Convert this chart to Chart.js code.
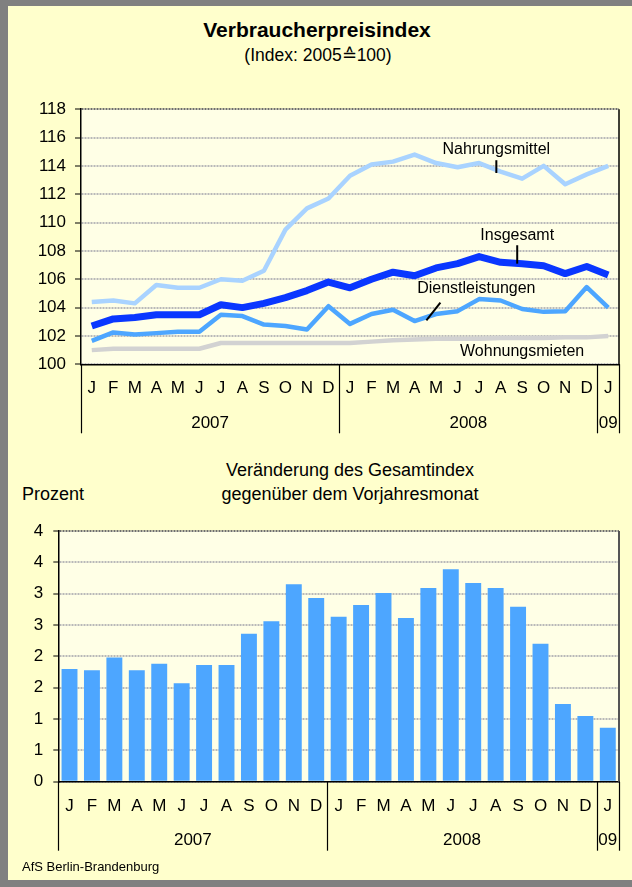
<!DOCTYPE html>
<html>
<head>
<meta charset="utf-8">
<title>Verbraucherpreisindex</title>
<script src="https://cdn.jsdelivr.net/npm/chart.js@4.4.1/dist/chart.umd.min.js"></script>
<style>
    body { margin: 0; width: 632px; height: 887px; background: #808080; position: relative; overflow: hidden;
           font-family: "Liberation Sans", Arial, sans-serif; color: #000; }
    #panel { position: absolute; left: 8px; top: 6px; width: 624px; height: 874px; background: #FFFFCC; }
    .txt { position: absolute; white-space: nowrap; line-height: normal; }
    .center { transform: translateX(-50%); }
    canvas { position: absolute; left: 0; }
</style>
</head>
<body>
<div id="panel"></div>
<div class="txt center" style="left:317px; top:18px; font-size:21px; font-weight:bold;">Verbraucherpreisindex</div>
<div class="txt center" style="left:318px; top:45px; font-size:17.5px;">(Index: 2005≙100)</div>
<canvas id="indexChart" width="632" height="360" style="top:90px;"></canvas>
<div class="txt center" style="left:350px; top:460px; font-size:18px;">Veränderung des Gesamtindex</div>
<div class="txt center" style="left:350px; top:484px; font-size:18px;">gegenüber dem Vorjahresmonat</div>
<div class="txt" style="left:22px; top:484px; font-size:18px;">Prozent</div>
<canvas id="changeChart" width="632" height="365" style="top:505px;"></canvas>
<div class="txt" style="left:22px; top:859px; font-size:13px; z-index:2;">AfS Berlin-Brandenburg</div>

<script>
// months Jan 2007 .. Jan 2009
const months = ['J', 'F', 'M', 'A', 'M', 'J', 'J', 'A', 'S', 'O', 'N', 'D',
                'J', 'F', 'M', 'A', 'M', 'J', 'J', 'A', 'S', 'O', 'N', 'D', 'J'];
const yearLabels = ['2007', '2008', '09'];
const monthsPerYear = [12, 12, 1];

// index 2005 = 100
const nahrungsmittel = [104.4, 104.5, 104.3, 105.6, 105.4, 105.4, 106.0, 105.9, 106.6, 109.5, 111.0, 111.7,
                        113.3, 114.1, 114.3, 114.8, 114.2, 113.9, 114.2, 113.6, 113.1, 114.0, 112.7, 113.4, 114.0];
const insgesamt = [102.7, 103.2, 103.3, 103.5, 103.5, 103.5, 104.2, 104.0, 104.3, 104.7, 105.2, 105.8,
                   105.4, 106.0, 106.5, 106.25, 106.8, 107.1, 107.6, 107.2, 107.1, 106.95, 106.4, 106.9, 106.3];
const dienstleistungen = [101.65, 102.25, 102.1, 102.2, 102.3, 102.3, 103.5, 103.4, 102.8, 102.7, 102.45, 104.1,
                          102.85, 103.55, 103.85, 103.05, 103.55, 103.75, 104.6, 104.5, 103.9, 103.7, 103.75, 105.45, 104.0];
const wohnungsmieten = [101.0, 101.1, 101.1, 101.1, 101.1, 101.1, 101.5, 101.5, 101.5, 101.5, 101.5, 101.5,
                        101.5, 101.6, 101.7, 101.75, 101.8, 101.8, 101.8, 101.85, 101.85, 101.85, 101.9, 101.9, 102.0];

// change against same month of previous year, percent
const veraenderung = [1.80, 1.78, 1.98, 1.78, 1.88, 1.57, 1.86, 1.86, 2.36, 2.56, 3.15, 2.93,
                      2.63, 2.82, 3.01, 2.61, 3.09, 3.39, 3.17, 3.09, 2.79, 2.20, 1.24, 1.05, 0.86];
const changeTickLabels = ['0', '1', '1', '2', '2', '3', '3', '4', '4'];

// labels written into the index chart
const seriesNotes = [
    { text: 'Nahrungsmittel', at: [18.8, 115.15], leader: [18.8, 114.4, 18.8, 113.5] },
    { text: 'Insgesamt', at: [19.77, 109.05], leader: [19.77, 108.4, 19.77, 107.1] },
    { text: 'Dienstleistungen', at: [17.87, 105.35], leader: [16.2, 104.35, 15.55, 103.1] },
    { text: 'Wohnungsmieten', at: [20.0, 100.93], leader: null }
];

const FONT = '"Liberation Sans", Arial, sans-serif';
const PLOT_BG = '#FFFFE6';

const plotBackground = {
    id: 'plotBackground',
    beforeDraw(chart) {
        const { ctx, chartArea: a } = chart;
        ctx.save();
        ctx.fillStyle = PLOT_BG;
        ctx.fillRect(a.left, a.top, a.right - a.left, a.bottom - a.top);
        ctx.restore();
    }
};

// year row under the month labels plus the separators
function yearAxis(rightColor, rightWidth) {
    return {
        id: 'yearAxis',
        afterDraw(chart) {
            const { ctx, chartArea: a, scales: { x } } = chart;
            const half = (x.getPixelForValue(1) - x.getPixelForValue(0)) / 2;
            ctx.save();
            ctx.strokeStyle = rightColor;
            ctx.lineWidth = rightWidth;
            ctx.beginPath();
            ctx.moveTo(a.right, a.top);
            ctx.lineTo(a.right, a.bottom);
            ctx.stroke();

            ctx.strokeStyle = '#000';
            ctx.lineWidth = 1.2;
            ctx.font = '17px ' + FONT;
            ctx.fillStyle = '#000';
            ctx.textAlign = 'center';
            ctx.textBaseline = 'middle';
            let start = 0;
            const edges = [x.getPixelForValue(0) - half];
            yearLabels.forEach((label, k) => {
                const end = start + monthsPerYear[k] - 1;
                const left = x.getPixelForValue(start) - half;
                const right = x.getPixelForValue(end) + half;
                edges.push(right);
                ctx.fillText(label, (left + right) / 2, a.bottom + 59);
                start = end + 1;
            });
            edges.forEach(px => {
                const xx = Math.round(px) + 0.5;
                ctx.beginPath();
                ctx.moveTo(xx, a.bottom);
                ctx.lineTo(xx, a.bottom + 69);
                ctx.stroke();
            });
            ctx.restore();
        }
    };
}

const seriesLabels = {
    id: 'seriesLabels',
    afterDatasetsDraw(chart) {
        const { ctx, scales: { x, y } } = chart;
        ctx.save();
        ctx.font = '16px ' + FONT;
        ctx.fillStyle = '#000';
        ctx.strokeStyle = '#000';
        ctx.lineWidth = 2;
        ctx.textAlign = 'center';
        ctx.textBaseline = 'middle';
        seriesNotes.forEach(note => {
            ctx.fillText(note.text, x.getPixelForValue(note.at[0]), y.getPixelForValue(note.at[1]));
            if (note.leader) {
                const l = note.leader;
                ctx.beginPath();
                ctx.moveTo(x.getPixelForValue(l[0]), y.getPixelForValue(l[1]));
                ctx.lineTo(x.getPixelForValue(l[2]), y.getPixelForValue(l[3]));
                ctx.stroke();
            }
        });
        ctx.restore();
    }
};

function gridColor(topValue) {
    return ctx => (ctx.tick && ctx.tick.value === topValue ? '#6e6e6e' : '#b9b9b9');
}

function xAxis(height) {
    return {
        offset: true,
        afterFit: scale => { scale.height = height; },
        grid: { display: false, drawTicks: false },
        border: { display: true, color: '#000', width: 1.5 },
        ticks: { color: '#000', font: { family: FONT, size: 17 }, padding: 14, autoSkip: false, maxRotation: 0 }
    };
}

function yAxis(width, min, max, step, topValue, labelPad, tickLen) {
    return {
        min, max,
        afterFit: scale => { scale.width = width; },
        grid: { color: gridColor(topValue), lineWidth: 2, tickColor: '#000', tickLength: tickLen, tickWidth: 1 },
        border: { display: true, color: '#000', width: 1.5, dash: [2, 1] },
        ticks: { stepSize: step, color: '#000', font: { family: FONT, size: 17 }, padding: labelPad }
    };
}

const lineStyle = (color, width) => ({
    borderColor: color, backgroundColor: color, borderWidth: width,
    pointRadius: 0, tension: 0, borderJoinStyle: 'round', fill: false
});

new Chart(document.getElementById('indexChart'), {
    type: 'line',
    data: {
        labels: months,
        datasets: [
            { label: 'Insgesamt', data: insgesamt, ...lineStyle('#0A37FF', 7) },
            { label: 'Dienstleistungen', data: dienstleistungen, ...lineStyle('#4DA6FF', 4.5) },
            { label: 'Nahrungsmittel', data: nahrungsmittel, ...lineStyle('#A9D3FF', 4.5) },
            { label: 'Wohnungsmieten', data: wohnungsmieten, ...lineStyle('#D2D2D2', 4.5) }
        ]
    },
    options: {
        responsive: false,
        animation: false,
        layout: { padding: { left: 0, right: 13, top: 17, bottom: 0 } },
        plugins: { legend: { display: false }, tooltip: { enabled: false } },
        scales: {
            x: xAxis(85.7),
            y: yAxis(81, 100, 118, 2, 118, 9, 6)
        }
    },
    plugins: [plotBackground, yearAxis('#000', 1.5), seriesLabels]
});

new Chart(document.getElementById('changeChart'), {
    type: 'bar',
    data: {
        labels: months,
        datasets: [{
            label: 'Veränderung',
            data: veraenderung,
            backgroundColor: '#4DA6FF',
            borderWidth: 0,
            categoryPercentage: 1,
            barPercentage: 0.71
        }]
    },
    options: {
        responsive: false,
        animation: false,
        layout: { padding: { left: 0, right: 13, top: 26, bottom: 0 } },
        plugins: { legend: { display: false }, tooltip: { enabled: false } },
        scales: {
            x: xAxis(88.3),
            y: {
                ...yAxis(58.3, 0, 4, 0.5, 4, 10, 5),
                ticks: {
                    stepSize: 0.5, color: '#000', font: { family: FONT, size: 17 }, padding: 10,
                    callback: (value, index) => changeTickLabels[index]
                }
            }
        }
    },
    plugins: [plotBackground, yearAxis('#555', 2)]
});
</script>
</body>
</html>
